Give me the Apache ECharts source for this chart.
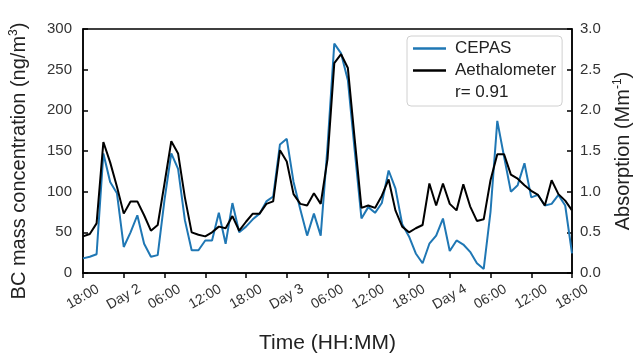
<!DOCTYPE html>
<html>
<head>
<meta charset="utf-8">
<script src="https://cdn.jsdelivr.net/npm/echarts@6/dist/echarts.min.js"></script>
<style>
  html, body { margin: 0; padding: 0; background: #fff; }
  #chart { width: 636px; height: 353px; }
</style>
</head>
<body>
<div id="chart"></div>
<script>
// hourly values, hour 0 = 18:00 on day 1
const cepas = [18, 20, 23, 147, 112, 98, 32, 50, 71, 36, 20, 22,
  90, 147, 128, 65, 28, 28, 40, 40, 74, 36, 86, 50,
  57, 66, 73, 88, 94, 158, 165, 112, 78, 46, 73, 46,
  155, 282, 270, 237, 151, 67, 81, 74, 86, 126, 104, 60,
  45, 24, 12, 36, 46, 67, 27, 40, 35, 26, 12, 5,
  75, 187, 143, 100, 108, 135, 93, 96, 83, 85, 96, 83, 24]
const aethalometer = [45, 48, 61, 161, 136, 106, 73, 88, 88, 71, 52, 59,
  110, 162, 147, 93, 50, 47, 45, 50, 57, 55, 70, 52,
  63, 73, 73, 85, 88, 151, 137, 97, 85, 83, 98, 85,
  140, 258, 269, 252, 165, 80, 83, 80, 95, 115, 77, 57,
  50, 55, 59, 110, 83, 110, 85, 77, 109, 82, 64, 66,
  114, 146, 146, 121, 116, 108, 101, 96, 83, 114, 97, 89, 77]
const tickLabels = ['18:00', 'Day 2', '06:00', '12:00', '18:00', 'Day 3', '06:00',
  '12:00', '18:00', 'Day 4', '06:00', '12:00', '18:00']
const rLabel = 'r= 0.91'

const chart = echarts.init(document.getElementById('chart'))
const font = 'Liberation Sans, Arial, sans-serif'
const supStyle = { fontSize: 12, verticalAlign: 'top', padding: [0, 0, 10, 0], color: '#222' }

const option = {
  animation: false,
  textStyle: { fontFamily: font },
  grid: {
    left: 83,
    right: 64,
    top: 29,
    bottom: 80,
    outerBoundsMode: 'none',
    containLabel: false,
    show: true,
    borderColor: '#000',
    borderWidth: 1.5
  },
  legend: {
    orient: 'vertical',
    left: 407,
    top: 36,
    padding: [4, 6, 5, 6],
    itemGap: 5,
    itemWidth: 33,
    itemHeight: 2.5,
    borderColor: '#d0d0d0',
    borderWidth: 1,
    borderRadius: 4,
    backgroundColor: '#fff',
    textStyle: { fontSize: 17, color: '#222', fontFamily: font, padding: [0, 0, 0, 4] },
    data: [
      { name: 'CEPAS', icon: 'rect' },
      { name: 'Aethalometer', icon: 'rect' },
      { name: rLabel, icon: 'none' }
    ]
  },
  xAxis: {
    type: 'value',
    min: 0,
    max: 72,
    interval: 6,
    name: 'Time (HH:MM)',
    nameLocation: 'middle',
    nameGap: 60,
    nameTextStyle: { fontSize: 21, color: '#222' },
    axisLine: { lineStyle: { color: '#000', width: 1.5 } },
    axisTick: { inside: false, length: 5, lineStyle: { color: '#000', width: 1.5 } },
    axisLabel: {
      rotate: 30,
      fontSize: 14,
      color: '#333',
      margin: 24,
      align: 'center',
      verticalAlign: 'middle',
      formatter: v => tickLabels[Math.round(v / 6)]
    },
    splitLine: { show: false }
  },
  yAxis: [
    {
      type: 'value',
      min: 0,
      max: 300,
      interval: 50,
      name: 'BC mass concentration (ng/m{sup|3})',
      nameLocation: 'middle',
      nameGap: 53,
      nameTextStyle: { fontSize: 20, color: '#222', padding: [0, 20, 0, 0], rich: { sup: supStyle } },
      axisLine: { show: true, lineStyle: { color: '#000', width: 1.5 } },
      axisTick: { show: true, inside: true, length: 5, lineStyle: { color: '#000', width: 1.5 } },
      axisLabel: { fontSize: 15, color: '#333', margin: 11 },
      splitLine: { show: false }
    },
    {
      type: 'value',
      min: 0,
      max: 3,
      interval: 0.5,
      position: 'right',
      name: 'Absorption (Mm{sup|-1})',
      nameLocation: 'middle',
      nameGap: 40,
      nameRotate: 90,
      nameTextStyle: { fontSize: 20, color: '#222', rich: { sup: supStyle } },
      axisLine: { show: true, lineStyle: { color: '#000', width: 1.5 } },
      axisTick: { show: true, inside: true, length: 5, lineStyle: { color: '#000', width: 1.5 } },
      axisLabel: { fontSize: 15, color: '#333', margin: 8, formatter: v => v.toFixed(1) },
      splitLine: { show: false }
    }
  ],
  series: [
    {
      name: 'CEPAS',
      type: 'line',
      data: cepas.map((v, i) => [i, v]),
      showSymbol: false,
      itemStyle: { color: '#1f77b4' },
      lineStyle: { color: '#1f77b4', width: 2 }
    },
    {
      name: 'Aethalometer',
      type: 'line',
      data: aethalometer.map((v, i) => [i, v]),
      showSymbol: false,
      itemStyle: { color: '#000' },
      lineStyle: { color: '#000', width: 2 }
    },
    {
      name: rLabel,
      type: 'line',
      data: [],
      itemStyle: { color: 'transparent' }
    }
  ]
}

chart.setOption(option)
</script>
</body>
</html>
